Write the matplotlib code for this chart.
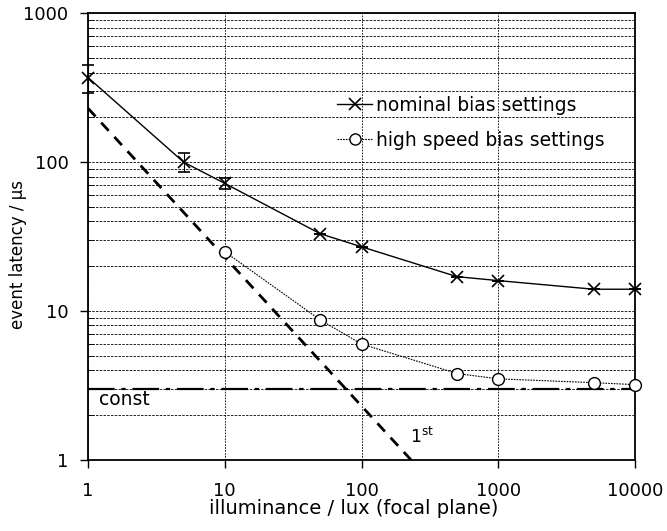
import matplotlib
matplotlib.use("Agg")
import matplotlib.pyplot as plt
from matplotlib.lines import Line2D
import numpy as np

# illuminance in lux
lux_nom = [1, 5, 10, 50, 100, 500, 1000, 5000, 10000]
lat_nom = [370, 100, 72, 33, 27, 17, 16, 14, 14]
err_lo = [80, 14, 6, 0, 0, 0, 0, 0, 0]
err_hi = [80, 16, 6, 0, 0, 0, 0, 0, 0]

lux_hs = [10, 50, 100, 500, 1000, 5000, 10000]
lat_hs = [25, 8.7, 6.0, 3.8, 3.5, 3.3, 3.2]

first_x = [1, 230]
first_y = [230, 1]
const_x = [1, 10000]
const_y = [3, 3]

xtick_vals = [1, 10, 100, 1000, 10000]
xtick_labels = ['1', '10', '100', '1000', '10000']
ytick_vals = [1, 10, 100, 1000]
ytick_labels = ['1', '10', '100', '1000']

plt.rcParams['font.family'] = ['DejaVu Sans']
fig = plt.figure(figsize=(6.67, 5.31), dpi=100)
ax = fig.add_axes([0.132, 0.134, 0.820, 0.841])

ax.set_xscale('log')
ax.set_yscale('log')
ax.set_xlim(1, 10000)
ax.set_ylim(1, 1000)

ax.grid(True, which='major', axis='x', color='black', linestyle=(0, (2, 1.5)), linewidth=0.6)
ax.grid(True, which='both', axis='y', color='black', linestyle=(0, (3, 1.5)), linewidth=0.6)

ax.plot(const_x, const_y, color='black', linestyle=(0, (12, 3, 2, 3)), linewidth=1.6)
ax.plot(first_x, first_y, color='black', linestyle=(0, (4, 3)), linewidth=2)

ax.errorbar(lux_nom, lat_nom, yerr=[err_lo, err_hi], color='black', linewidth=1,
            marker='x', markersize=9, markeredgewidth=1.2, capsize=4, elinewidth=0.8,
            zorder=5, clip_on=False)
ax.plot(lux_hs, lat_hs, color='black', linestyle=(0, (1.5, 1)), linewidth=0.8,
        marker='o', markersize=8.5, markerfacecolor='white', markeredgewidth=1,
        zorder=5, clip_on=False)

ax.text(1.2, 2.32, 'const', fontsize=13.5)
ax.text(225, 1.3, r'1$^{\mathrm{st}}$', fontsize=12.5)

handles = [
    Line2D([], [], color='black', linewidth=1, marker='x', markersize=9, markeredgewidth=1.2),
    Line2D([], [], color='black', linewidth=0.8, linestyle=(0, (1.5, 1)), marker='o',
           markersize=8, markerfacecolor='white'),
]
labels = ['nominal bias settings', 'high speed bias settings']
ax.legend(handles, labels, loc='center left', bbox_to_anchor=(0.424, 0.755),
          frameon=False, fontsize=13.5, handlelength=1.9, handletextpad=0.2,
          labelspacing=0.85)

for s in ax.spines.values():
    s.set_linewidth(1.3)

ax.tick_params(axis='both', which='major', labelsize=13, direction='out', length=6, width=1)
ax.tick_params(axis='y', which='minor', direction='in', length=4)
ax.tick_params(axis='x', which='minor', length=0)
ax.tick_params(axis='x', pad=10)
ax.tick_params(axis='y', pad=8)

ax.set_xticks(xtick_vals)
ax.set_xticklabels(xtick_labels)
ax.set_yticks(ytick_vals)
ax.set_yticklabels(ytick_labels)

ax.set_xlabel('illuminance / lux (focal plane)', fontsize=14)
ax.xaxis.set_label_coords(0.486, -0.088)
ax.set_ylabel('event latency / µs', fontsize=12)
ax.yaxis.set_label_coords(-0.1115, 0.459)

fig.savefig('out.png', dpi=100)
